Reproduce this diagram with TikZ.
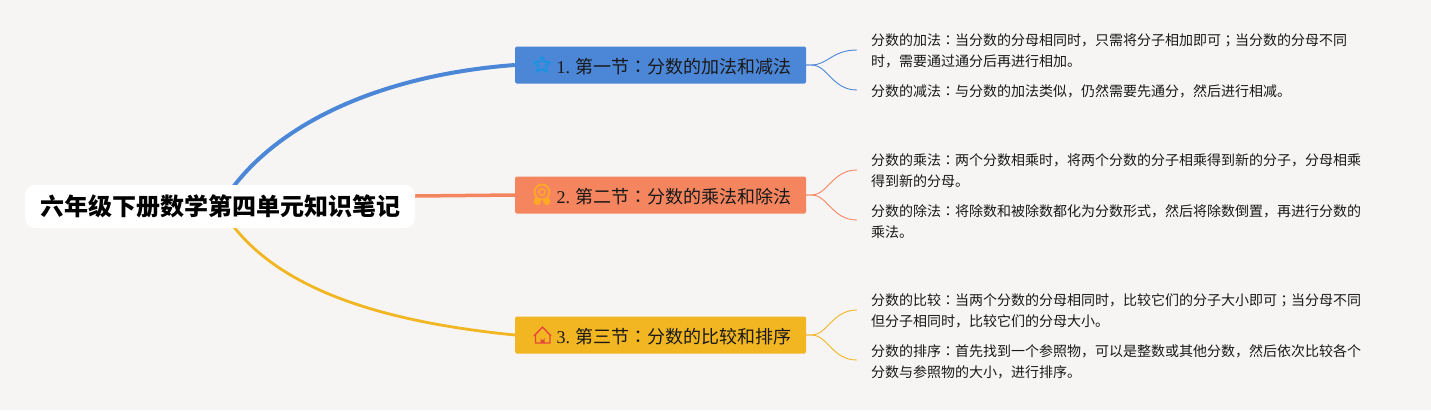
\documentclass[tikz,border=0pt]{standalone}
\usepackage{fontspec}
\setmainfont{Noto Sans CJK SC}
\newfontfamily\punctfont{Noto Sans CJK JP}
\newfontfamily\numfont{Liberation Serif}
\newcommand{\cln}{{\punctfont ：}}
\newcommand{\semi}{{\punctfont ；}}
\usetikzlibrary{shapes.geometric, backgrounds}
\definecolor{pagebg}{HTML}{F6F5F4}
\definecolor{blueb}{HTML}{4C86D6}
\definecolor{orangeb}{HTML}{F5855F}
\definecolor{yellowb}{HTML}{F2B622}
\definecolor{staric}{HTML}{1C93E0}
\definecolor{medalic}{HTML}{FFA826}
\definecolor{houseic}{HTML}{E5483A}
\tikzset{
x=1pt, y=-1pt,
root/.style={fill=white, rounded corners=10pt, minimum width=390pt, minimum height=43pt, inner sep=0pt, font=\fontsize{24}{28}\selectfont\bfseries},
branch/.style={rounded corners=1.5pt, minimum width=291pt, minimum height=37pt, inner sep=0pt},
label/.style={anchor=west, inner sep=0pt, text=black!90, font=\fontsize{18}{22}\selectfont},
detail/.style={anchor=west, inner sep=0pt, align=left, text=black!90, font=\fontsize{14}{21}\selectfont},
twig/.style={line width=0.9pt},
}

\begin{document}
\begin{tikzpicture}
        \useasboundingbox (0,0) rectangle (1431,410);

        \node[root] (r0) at (220,206.5) {\raisebox{-1pt}{六年级下册数学第四单元知识笔记}};

        \node[branch, fill=blueb] (b1) at (660.5,65) {};
        \node[branch, fill=orangeb] (b2) at (660.5,195) {};
        \node[branch, fill=yellowb] (b3) at (660.5,335) {};

        \node[label] (t1) at (556.5,66.5) {{\numfont 1.} 第一节\cln 分数的加法和减法};
        \node[label] (t2) at (556.5,196.5) {{\numfont 2.} 第二节\cln 分数的乘法和除法};
        \node[label] (t3) at (556.5,336.5) {{\numfont 3.} 第三节\cln 分数的比较和排序};

        % icons
        \node[star, star points=5, star point ratio=2.1, draw=staric, line join=round, line width=1.8pt, minimum size=17pt, inner sep=0pt] (i1) at (542,65) {};
        \draw[medalic, line width=2.2pt, line join=round, fill=medalic] (535.5,199) -- (535,203) -- (538,204) -- (540,201) -- cycle
              (548.5,199) -- (549,203) -- (546,204) -- (544,201) -- cycle;
        \node[circle, draw=medalic, fill=orangeb, line width=1.7pt, minimum size=15pt, inner sep=0pt] (i2) at (542,192) {};
        \node[circle, draw=medalic, line width=1.4pt, minimum size=6.5pt, inner sep=0pt] (i2c) at (542,192) {};
        \draw[houseic, line width=1.4pt, line join=round] (534,336) -- (542.5,327) -- (551,336) (535.5,334) -- (535.5,343) -- (550,343) -- (550,334);
        \fill[houseic] (540.5,343) -- (540.5,338) arc[start angle=180, end angle=0, radius=2] -- (544.5,343) -- cycle;

        \node[detail] (d1) at (871,51) {分数的加法\cln 当分数的分母相同时，只需将分子相加即可\semi 当分数的分母不同\\时，需要通过通分后再进行相加。};
        \node[detail] (d2) at (871,91) {分数的减法\cln 与分数的加法类似，仍然需要先通分，然后进行相减。};
        \node[detail] (d3) at (871,171) {分数的乘法\cln 两个分数相乘时，将两个分数的分子相乘得到新的分子，分母相乘\\得到新的分母。};
        \node[detail] (d4) at (871,221.5) {分数的除法\cln 将除数和被除数都化为分数形式，然后将除数倒置，再进行分数的\\乘法。};
        \node[detail] (d5) at (871,311) {分数的比较\cln 当两个分数的分母相同时，比较它们的分子大小即可\semi 当分母不同\\但分子相同时，比较它们的分母大小。};
        \node[detail] (d6) at (871,361.5) {分数的排序\cln 首先找到一个参照物，可以是整数或其他分数，然后依次比较各个\\分数与参照物的大小，进行排序。};

        \coordinate (e1) at (857,50);
        \coordinate (e2) at (857,90);
        \coordinate (e3) at (857,170);
        \coordinate (e4) at (857,220);
        \coordinate (e5) at (857,310);
        \coordinate (e6) at (857,360);

        \begin{scope}[on background layer]
        \fill[pagebg] (0,0) rectangle (1431,410);
        \draw[blueb, line width=4pt] (r0.center) .. controls (268,125) and (380,75) .. (b1.west);
        \draw[orangeb, line width=3.5pt] ([yshift=10.5pt]r0.east) -- (b2.west);
        \draw[yellowb, line width=2.8pt] (r0.center) .. controls (268,290) and (385,322) .. (b3.west);
        \end{scope}

        \draw[twig, blueb] (b1.east) -- +(5,0) .. controls (828,65) and (832,50) .. (e1);
        \draw[twig, blueb] (b1.east) -- +(5,0) .. controls (828,65) and (832,90) .. (e2);
        \draw[twig, orangeb] (b2.east) -- +(5,0) .. controls (828,195) and (832,170) .. (e3);
        \draw[twig, orangeb] (b2.east) -- +(5,0) .. controls (828,195) and (832,220) .. (e4);
        \draw[twig, yellowb] (b3.east) -- +(5,0) .. controls (828,335) and (832,310) .. (e5);
        \draw[twig, yellowb] (b3.east) -- +(5,0) .. controls (828,335) and (832,360) .. (e6);

    \end{tikzpicture}
\end{document}
